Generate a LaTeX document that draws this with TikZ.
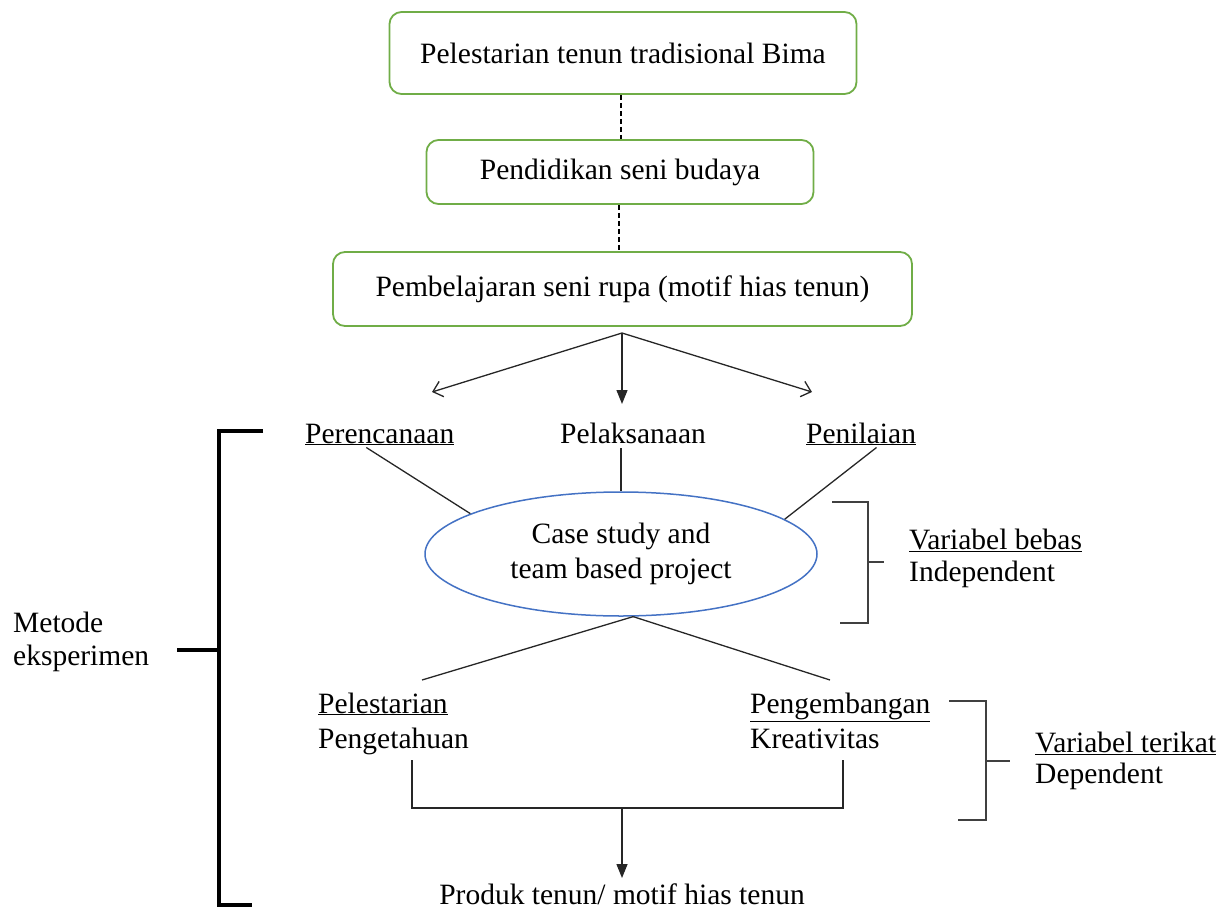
\documentclass[tikz,border=0pt]{standalone}
\usepackage{fontspec}
\setmainfont{Liberation Serif}
\usetikzlibrary{arrows.meta,shapes.geometric,calc}
\definecolor{boxgreen}{HTML}{70AD47}
\definecolor{ellblue}{HTML}{4472C4}
\definecolor{brkgray}{HTML}{404040}
\begin{document}
\begin{tikzpicture}[x=1pt,y=-1pt,
  every node/.style={font=\fontsize{29.5}{35}\selectfont},
  greenbox/.style={draw=boxgreen,line width=1.8pt,rounded corners=12pt,inner sep=0pt},
  txt/.style={inner sep=0pt},
  conn/.style={line width=1.3pt,black!85},
  dashconn/.style={line width=1.2pt,dash pattern=on 5pt off 3pt},
  brk/.style={line width=1.8pt,brkgray},
  brkL/.style={line width=3.2pt,black}]
\useasboundingbox (0,0) rectangle (1228,910);

% top boxes
\node[greenbox,minimum width=467pt,minimum height=82pt] (b1) at (623,53) {Pelestarian tenun tradisional Bima};
\node[greenbox,minimum width=387pt,minimum height=64pt] (b2) at (620,172) {Pendidikan seni budaya};
\node[greenbox,minimum width=579pt,minimum height=74pt] (b3) at (622.5,289) {Pembelajaran seni rupa (motif hias tenun)};

\draw[dashconn] (b1.south -| 621,0) -- (b2.north -| 621,0);
\draw[dashconn] (b2.south -| 619,0) -- (b3.north -| 619,0);

% fork arrows
\coordinate (fork) at (622,333);
\coordinate (al) at (432,392);
\coordinate (ar) at (812,392);
\coordinate (ac) at (622,404);
\draw[conn,-{Straight Barb[length=9pt,width=16pt,line width=1.3pt]}] (fork) -- (al);
\draw[conn,-{Straight Barb[length=9pt,width=16pt,line width=1.3pt]}] (fork) -- (ar);
\draw[conn,-{Triangle[length=14pt,width=11pt]}] (fork) -- (ac);

% stage labels
\node[txt,anchor=base west] (perenc) at (305,443) {\underline{Perencanaan}};
\node[txt,anchor=base] (pelak) at (633,443) {Pelaksanaan};
\node[txt,anchor=base west] (penil) at (806,443) {\underline{Penilaian}};

% ellipse
\node[draw=ellblue,line width=1.5pt,ellipse,minimum width=392pt,minimum height=124pt,inner sep=0pt,align=center] (ell) at (621,554) {Case study and\\team based project};

\draw[conn] ($(perenc.south west)!0.41!(perenc.south east)+(0,2)$) -- (ell.165);
\draw[conn] (pelak.south -| ell.north) ++(0,5) -- (ell.north);
\draw[conn] ($(penil.south west)!0.64!(penil.south east)+(0,2)$) -- (ell.12.6);

% outcome labels
\node[txt,anchor=base west] (pelest) at (318,713) {\underline{Pelestarian}};
\node[txt,anchor=base west] (penget) at (318,748) {Pengetahuan};
\node[txt,anchor=base west] (pengem) at (750,713) {\underline{Pengembangan}};
\node[txt,anchor=base west] (kreat) at (750,748) {Kreativitas};

\coordinate (lo) at (422,680);
\coordinate (ro) at (830,680);
\draw[conn] (ell.-79) -- (lo);
\draw[conn] (ell.-79) -- (ro);

% join to product
\coordinate (jl) at (412,760);
\coordinate (jr) at (843,760);
\coordinate (jm) at (622,808);
\draw[conn] (jl) |- (jm) -| (jr);
\node[txt,anchor=base] (prod) at (622,904) {Produk tenun/ motif hias tenun};
\draw[conn,-{Triangle[length=14pt,width=11pt]}] (jm) -- ($(prod.north)+(0,-5)$);

% right brackets
\draw[brk] (832,502) -- (868,502) -- (868,623) -- (840,623);
\draw[brk] (868,562) -- (884,562);
\node[txt,anchor=base west] (vb) at (909,549) {\underline{Variabel bebas}};
\node[txt,anchor=base west] (indep) at (909,581) {Independent};

\draw[brk] (949,701) -- (986,701) -- (986,820) -- (958,820);
\draw[brk] (986,761) -- (1010,761);
\node[txt,anchor=base west] (vt) at (1035,752) {\underline{Variabel terikat}};
\node[txt,anchor=base west] (dep) at (1035,783) {Dependent};

% left bracket
\draw[brkL] (263,431) -- (219,431) -- (219,905) -- (252,905);
\draw[brkL] (177,650) -- (219,650);
\node[txt,anchor=base west] (met1) at (13,632) {Metode};
\node[txt,anchor=base west] (met2) at (13,665) {eksperimen};
\end{tikzpicture}
\end{document}
